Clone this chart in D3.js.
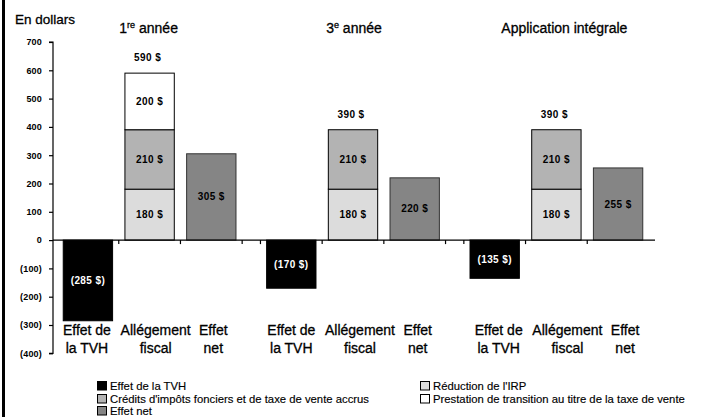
<!DOCTYPE html>
<html>
<head>
<meta charset="utf-8">
<script src="https://cdn.jsdelivr.net/npm/d3@7"></script>
<style>
  html, body { margin: 0; padding: 0; background: #fff; }
  svg { display: block; font-family: "Liberation Sans", Arial, sans-serif; }
</style>
</head>
<body>
<svg id="chart" width="701" height="417"></svg>
<script>
// ---- Data ----
const groups = ["1re année", "3e année", "Application intégrale"];
const titleMain = ["1", "3", "Application intégrale"];
const titleSup = ["re", "e", ""];
const titleRest = [" année", " année", ""];

const categories = ["Effet de la TVH", "Allégement fiscal", "Effet net"];
const categoryLines = [["Effet de", "la TVH"], ["Allégement", "fiscal"], ["Effet", "net"]];

const tvhEffect = [-285, -170, -135];
const irpReduction = [180, 180, 180];
const taxCredits = [210, 210, 210];
const transitionBenefit = [200, 0, 0];
const netEffect = [305, 220, 255];

const yTicks = [700, 600, 500, 400, 300, 200, 100, 0, -100, -200, -300, -400];

const legendItems = [
  "Effet de la TVH",
  "Réduction de l'IRP",
  "Crédits d'impôts fonciers et de taxe de vente accrus",
  "Prestation de transition au titre de la taxe de vente",
  "Effet net"
];

// ---- Styles ----
const colors = {
  "Effet de la TVH": "#000000",
  "Réduction de l'IRP": "#dcdcdc",
  "Crédits d'impôts fonciers et de taxe de vente accrus": "#b3b3b3",
  "Prestation de transition au titre de la taxe de vente": "#ffffff",
  "Effet net": "#858585"
};

const svg = d3.select("#chart");
const plotLeft = 53, plotRight = 655, plotTop = 42, plotBottom = 353.3;

// left frame line
svg.append("rect").attr("x", 2).attr("y", 0).attr("width", 3).attr("height", 417).attr("fill", "#000");

// scales
const y = d3.scaleLinear().domain([-400, 700]).range([plotBottom, plotTop]);
const x0 = d3.scaleBand().domain(groups).range([plotLeft, plotRight - 2]).paddingInner(0.09).paddingOuter(0.02);
const x1 = d3.scaleBand().domain(categories).range([0, x0.bandwidth()]).paddingInner(0.2).paddingOuter(0.1);

const fmtVal = v => v < 0 ? `(${-v} $)` : `${v} $`;
const fmtTick = v => v < 0 ? `(${-v})` : `${v}`;

const heavy = sel => sel.attr("stroke", "#000").attr("stroke-width", 0.3);

// y axis
const yAxis = d3.axisLeft(y).tickValues(yTicks).tickSize(4).tickPadding(7).tickFormat(fmtTick);
const gy = svg.append("g").attr("transform", `translate(${plotLeft},0)`).call(yAxis);
gy.select(".domain").attr("stroke", "#000").attr("stroke-width", 1.2).attr("d", `M-4,${plotTop}H0V${plotBottom}H-4`);
gy.selectAll(".tick line").attr("stroke", "#000").attr("stroke-width", 1.2);
gy.selectAll(".tick text").attr("fill", "#000").style("font-size", "9px").style("font-weight", "bold")
  .style("font-family", "'Liberation Sans', Arial, sans-serif").style("letter-spacing", "0.2px");

// "En dollars"
svg.append("text").attr("x", 15).attr("y", 23.5).text("En dollars")
  .style("font-size", "13.5px").attr("fill", "#000").call(heavy);

// build segments
const segments = [];
groups.forEach((g, i) => {
  const gx = x0(g);
  segments.push({ x: gx + x1(categories[0]), y0: 0, y1: tvhEffect[i], key: legendItems[0], label: fmtVal(tvhEffect[i]) });
  let base = 0;
  [[irpReduction, legendItems[1]], [taxCredits, legendItems[2]], [transitionBenefit, legendItems[3]]].forEach(([arr, key]) => {
    const v = arr[i];
    if (v > 0) {
      segments.push({ x: gx + x1(categories[1]), y0: base, y1: base + v, key, label: fmtVal(v) });
      base += v;
    }
  });
  segments.push({ x: gx + x1(categories[2]), y0: 0, y1: netEffect[i], key: legendItems[4], label: fmtVal(netEffect[i]) });
});

const bw = x1.bandwidth();
svg.append("g").selectAll("rect").data(segments).join("rect")
  .attr("x", d => d.x)
  .attr("y", d => y(Math.max(d.y0, d.y1)))
  .attr("width", bw)
  .attr("height", d => Math.abs(y(d.y0) - y(d.y1)))
  .attr("fill", d => colors[d.key])
  .attr("stroke", d => d.key === legendItems[4] ? "#333" : "#000")
  .attr("stroke-width", 1);

// x axis line + ticks
svg.append("line").attr("x1", plotLeft).attr("x2", plotRight).attr("y1", y(0)).attr("y2", y(0))
  .attr("stroke", "#000").attr("stroke-width", 1.2);
const tickXs = [];
groups.forEach((g, i) => {
  const step = x1.step();
  for (let k = 0; k <= 3; k++) {
    if ((i === 0 && k === 0) || (i === groups.length - 1 && k === 3)) continue;
    tickXs.push(x0(g) + k * step);
  }
});
svg.append("g").selectAll("line").data(tickXs).join("line")
  .attr("x1", d => d).attr("x2", d => d).attr("y1", y(0)).attr("y2", y(0) + 4)
  .attr("stroke", "#000").attr("stroke-width", 1.2);

// segment labels
svg.append("g").selectAll("text").data(segments).join("text")
  .attr("x", d => d.x + bw / 2)
  .attr("y", d => y((d.y0 + d.y1) / 2) + 3.5)
  .attr("text-anchor", "middle")
  .attr("fill", d => d.key === legendItems[0] ? "#fff" : "#000")
  .style("font-size", "10px").style("font-weight", "bold").style("letter-spacing", "0.4px")
  .text(d => d.label);

// totals above Allégement
groups.forEach((g, i) => {
  const total = irpReduction[i] + taxCredits[i] + transitionBenefit[i];
  svg.append("text")
    .attr("x", x0(g) + x1(categories[1]) + bw / 2 - 2)
    .attr("y", y(total) - 12)
    .attr("text-anchor", "middle")
    .style("font-size", "10px").style("font-weight", "bold").style("letter-spacing", "0.4px")
    .text(fmtVal(total));
});

// group titles
const titleShift = [-1, 1, 8];
groups.forEach((g, i) => {
  const t = svg.append("text")
    .attr("x", x0(g) + x1(categories[1]) + bw / 2 + titleShift[i])
    .attr("y", 33)
    .attr("text-anchor", "middle")
    .style("font-size", "14px")
    .call(heavy);
  t.append("tspan").text(titleMain[i]);
  if (titleSup[i]) {
    t.append("tspan").attr("dy", -5).style("font-size", "9px").text(titleSup[i]);
    t.append("tspan").attr("dy", 5).text(titleRest[i]);
  }
});

// category labels
const catOffset = [0, 7, 3];
const groupShift = [-1, 0, 4];
groups.forEach((g, i) => {
  categories.forEach((c, j) => {
    const cx = x0(g) + x1(c) + bw / 2 + catOffset[j] + groupShift[i];
    const t = svg.append("text")
      .attr("x", cx)
      .attr("y", 335)
      .attr("text-anchor", "middle")
      .style("font-size", "14px")
      .call(heavy);
    categoryLines[j].forEach((line, k) => {
      t.append("tspan").attr("x", cx).attr("dy", k === 0 ? 0 : 17.5).text(line);
    });
  });
});

// legend (row-major, 2 columns)
const legendCols = [97, 420];
const legendRows = [381, 394, 406];
const lg = svg.append("g").selectAll("g").data(legendItems).join("g")
  .attr("transform", (d, i) => `translate(${legendCols[i % 2]},${legendRows[Math.floor(i / 2)]})`);
lg.append("rect").attr("x", 0.5).attr("y", 0.5).attr("width", 9).attr("height", 8.5)
  .attr("fill", d => colors[d]).attr("stroke", "#000").attr("stroke-width", 1);
lg.append("text").attr("x", 13).attr("y", 9).style("font-size", "11.3px")
  .attr("stroke", "#000").attr("stroke-width", 0.15).text(d => d);
</script>
</body>
</html>
